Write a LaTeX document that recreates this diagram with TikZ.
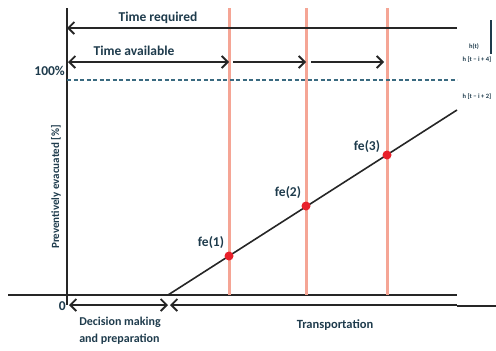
\documentclass[tikz,border=0pt]{standalone}
\usepackage{fontspec}
\setmainfont{Carlito}
\usepackage{tikz}
\usetikzlibrary{arrows.meta}
\definecolor{txtcol}{HTML}{1E3B4C}
\definecolor{redline}{HTML}{F5A595}
\definecolor{dotred}{HTML}{E8202A}
\definecolor{dashcol}{HTML}{3A6A80}

\begin{document}
\begin{tikzpicture}[x=1pt,y=-1pt,
  axis/.style={line width=1.6pt, draw=black!85},
  limit/.style={line width=3pt, draw=redline},
  span/.style={line width=1.8pt, draw=black!85, arrows={-Straight Barb[length=6pt,width=12pt]}},
  twospan/.style={line width=1.8pt, draw=black!85, arrows={Straight Barb[length=6pt,width=12pt]-Straight Barb[length=6pt,width=12pt]}},
  lbl/.style={text=txtcol, font=\bfseries\fontsize{13.5}{15}\selectfont, inner sep=1pt},
  small/.style={text=txtcol, font=\bfseries\fontsize{6.5}{7}\selectfont, inner sep=0pt},
  fedot/.style={circle, fill=dotred, minimum size=9pt, inner sep=0pt}]
\useasboundingbox (0,0) rectangle (496,351);

% axes
\coordinate (ytop) at (67,8);
\coordinate (ybot) at (67,305);
\coordinate (xleft) at (8,295);
\coordinate (xright) at (457,295);
\draw[axis] (ytop) -- (ybot);
\draw[axis] (xleft) -- (xright);

% time steps
\coordinate (t1top) at (229,8);
\coordinate (t1bot) at (229,295);
\coordinate (t2top) at (306,8);
\coordinate (t2bot) at (306,295);
\coordinate (t3top) at (387,8);
\coordinate (t3bot) at (387,295);
\draw[limit] (t1top) -- (t1bot);
\draw[limit] (t2top) -- (t2bot);
\draw[limit] (t3top) -- (t3bot);

% 100% level
\coordinate (fullL) at (67,80);
\coordinate (fullR) at (457,80);
\draw[dashcol, line width=1.1pt, dash pattern=on 4pt off 2.5pt] (fullL) -- (fullR);
\node[lbl, anchor=east] (full) at (66,71) {100\%};

% evacuation curve
\coordinate (start) at (168,295);
\coordinate (stop) at (457,110);
\draw[line width=1.6pt, black!85] (start) -- (stop);
\node[fedot] (fe1) at (229,256) {};
\node[fedot] (fe2) at (306,206) {};
\node[fedot] (fe3) at (387,155) {};
\node[lbl] (fe1l) at (211,243) {fe(1)};
\node[lbl] (fe2l) at (288,193) {fe(2)};
\node[lbl] (fe3l) at (367,147) {fe(3)};

% time required / available
\coordinate (reqR) at (457,28);
\coordinate (reqL) at (67,28);
\draw[span] (reqR) -- (reqL);
\node[lbl] (req) at (158,18) {Time required};
\coordinate (av0) at (68,62);
\coordinate (av1) at (229,62);
\coordinate (av1b) at (233,62);
\coordinate (av2) at (306,62);
\coordinate (av2b) at (311,62);
\coordinate (av3) at (384,62);
\draw[twospan] (av0) -- (av1);
\draw[span] (av1b) -- (av2);
\draw[span] (av2b) -- (av3);
\node[lbl] (avail) at (134,51) {Time available};

% phases
\node[lbl, anchor=east] (zero) at (67,306) {0};
\coordinate (ph0) at (69,305);
\coordinate (ph1) at (168,305);
\coordinate (ph1b) at (170,305);
\coordinate (ph2) at (457,305);
\coordinate (ph2b) at (457,306);
\coordinate (ph3) at (496,306);
\draw[twospan] (ph0) -- (ph1);
\draw[span] (ph2) -- (ph1b);
\draw[line width=1.8pt, black!85] (ph2b) -- (ph3);
\node[lbl, font=\bfseries\fontsize{12}{17}\selectfont, align=left] (prep) at (120,331) {Decision making\\and preparation};
\node[lbl, font=\bfseries\fontsize{12.5}{14}\selectfont] (trans) at (335,325) {Transportation};

% y label
\node[lbl, font=\bfseries\fontsize{11}{13}\selectfont, rotate=90] (ylab) at (56,187) {Preventively evacuated [\%]};

% cut-off legend on the right
\node[small] (ht) at (474,47) {h(t)};
\node[small] (h4) at (477,60) {h [t − i + 4]};
\node[small] (h2) at (477,97) {h [t − i + 2]};
\coordinate (brtop) at (491,20);
\coordinate (brbot) at (491,54);
\draw[line width=1.6pt, txtcol] (brtop) -- (brbot);
\end{tikzpicture}
\end{document}
